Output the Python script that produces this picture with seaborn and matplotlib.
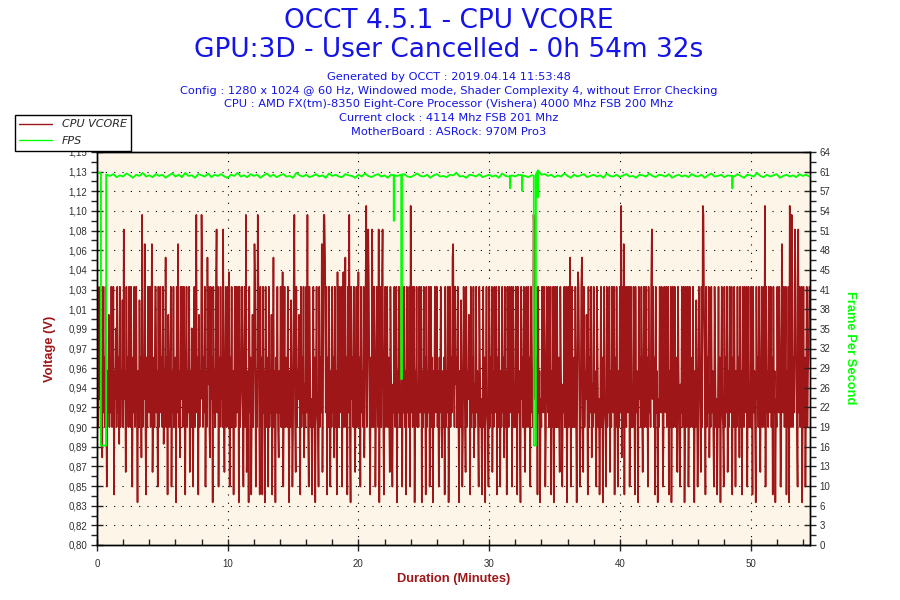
import numpy as np
import pandas as pd
import matplotlib
matplotlib.use("Agg")
import matplotlib.pyplot as plt
import seaborn as sns
from matplotlib.ticker import FixedLocator, MultipleLocator

# ---------------- data ----------------
title_lines = ["OCCT 4.5.1 - CPU VCORE", "GPU:3D - User Cancelled - 0h 54m 32s"]
info_lines = [
    "Generated by OCCT : 2019.04.14 11:53:48",
    "Config : 1280 x 1024 @ 60 Hz, Windowed mode, Shader Complexity 4, without Error Checking",
    "CPU : AMD FX(tm)-8350 Eight-Core Processor (Vishera) 4000 Mhz FSB 200 Mhz",
    "Current clock : 4114 Mhz FSB 201 Mhz",
    "MotherBoard : ASRock: 970M Pro3",
]
series_names = ["CPU VCORE", "FPS"]

duration_min = 54.55          # 0h 54m 32s
vcore_step_min = 0.05         # sampling interval of the vcore list (3 s)
fps_step_min = 0.25           # sampling interval of the fps baseline list

# CPU VCORE in millivolts, one row = one minute
vcore_mv = [
    838, 1030, 905, 967, 930, 1030, 905, 955, 878, 1030, 918, 967, 905, 1030, 943, 852, 955, 918, 1005, 905,
    967, 918, 1030, 905, 943, 1030, 845, 955, 930, 993, 905, 1030, 918, 967, 890, 1030, 905, 955, 930, 1018,
    905, 1081, 930, 955, 865, 1030, 918, 967, 905, 1030, 943, 905, 1030, 955, 852, 967, 918, 1030, 905, 943,
    1030, 918, 838, 955, 905, 1018, 930, 967, 878, 1094, 905, 955, 930, 1068, 918, 845, 967, 905, 1030, 943,
    918, 1030, 905, 955, 1068, 865, 930, 967, 905, 1030, 1030, 918, 955, 852, 1030, 905, 943, 1030, 918, 967,
    905, 1030, 890, 955, 930, 1056, 905, 967, 845, 1005, 930, 905, 967, 1030, 852, 955, 918, 1030, 905, 943,
    967, 838, 1030, 918, 1068, 905, 955, 878, 1030, 930, 1030, 905, 943, 1030, 918, 845, 967, 1030, 905, 955,
    918, 1030, 865, 955, 905, 993, 930, 852, 967, 1030, 905, 943, 1094, 918, 967, 845, 1005, 905, 955, 930,
    1094, 1030, 905, 967, 918, 1030, 852, 955, 905, 1056, 943, 1030, 905, 878, 1030, 930, 967, 838, 1030, 918,
    955, 905, 1030, 1081, 918, 1030, 852, 967, 905, 1030, 930, 967, 905, 1081, 918, 865, 955, 1030, 905, 943,
    1030, 905, 1043, 852, 967, 918, 1030, 905, 955, 845, 943, 1030, 905, 1030, 918, 967, 1030, 838, 1030, 905,
    930, 955, 1030, 918, 852, 967, 1030, 905, 1094, 865, 905, 955, 838, 1030, 918, 967, 845, 930, 1005, 905,
    967, 1068, 1030, 852, 955, 905, 1094, 1030, 930, 845, 1030, 905, 967, 845, 1030, 918, 955, 838, 1030, 905,
    930, 967, 852, 1030, 905, 955, 918, 1005, 845, 943, 1056, 905, 955, 838, 967, 918, 1030, 905, 878, 955,
    918, 1030, 905, 967, 1043, 852, 930, 1030, 905, 955, 967, 905, 1030, 918, 838, 955, 905, 1018, 943, 852,
    905, 1030, 1094, 918, 865, 1030, 905, 955, 930, 1005, 955, 845, 1030, 905, 967, 918, 1030, 878, 943, 905,
    1030, 918, 1094, 905, 852, 1030, 967, 905, 930, 845, 918, 1030, 905, 967, 838, 955, 1030, 918, 905, 852,
    1030, 905, 967, 918, 1068, 865, 955, 1094, 1094, 1056, 918, 1030, 845, 967, 905, 1030, 943, 852, 955, 905,
    1030, 918, 967, 878, 1030, 905, 955, 845, 1043, 930, 905, 1030, 918, 967, 1030, 852, 955, 1043, 905, 930,
    1056, 905, 967, 845, 1030, 918, 1094, 905, 838, 1030, 930, 967, 905, 1030, 918, 865, 955, 1030, 905, 943,
    1043, 905, 967, 852, 1030, 918, 955, 905, 1030, 878, 930, 1030, 1102, 905, 967, 1081, 1030, 918, 845, 967,
    905, 1081, 930, 905, 1030, 967, 852, 918, 1030, 955, 905, 1081, 838, 967, 1030, 905, 1030, 1081, 918, 845,
    955, 1030, 905, 943, 1030, 905, 967, 918, 865, 1030, 955, 905, 852, 943, 918, 1030, 905, 967, 1030, 838,
    955, 918, 1030, 905, 930, 905, 1030, 852, 967, 918, 1030, 905, 955, 845, 1030, 918, 967, 905, 1030, 852,
    1102, 918, 1030, 905, 967, 1030, 838, 955, 918, 1030, 905, 943, 905, 1030, 918, 967, 1030, 838, 955, 905,
    1030, 918, 967, 845, 1030, 905, 955, 918, 1030, 852, 930, 1030, 905, 967, 838, 955, 905, 1030, 918, 943,
    1030, 905, 955, 852, 967, 918, 1030, 905, 878, 955, 905, 967, 845, 1030, 905, 955, 918, 1030, 838, 930,
    1030, 905, 967, 918, 1056, 1068, 955, 905, 1030, 943, 967, 905, 1030, 918, 838, 955, 905, 1018, 943, 852,
    905, 1030, 967, 918, 865, 1030, 905, 955, 930, 1005, 955, 845, 1030, 905, 967, 918, 1030, 878, 943, 905,
    1030, 918, 955, 905, 852, 1030, 967, 905, 930, 845, 918, 1030, 905, 967, 838, 955, 1030, 918, 905, 852,
    1030, 905, 967, 918, 1030, 865, 955, 905, 1030, 930, 918, 1030, 845, 967, 905, 1030, 943, 852, 955, 905,
    1030, 918, 967, 878, 1030, 905, 955, 845, 1030, 930, 905, 1030, 918, 967, 1030, 852, 955, 1030, 905, 930,
    905, 1030, 967, 845, 1030, 918, 955, 905, 838, 1030, 930, 967, 905, 1030, 918, 865, 955, 1030, 905, 943,
    1030, 905, 967, 852, 1030, 918, 955, 905, 1094, 1081, 930, 1030, 905, 967, 845, 1030, 918, 955, 838, 930,
    905, 1030, 943, 918, 1030, 967, 852, 905, 1030, 955, 918, 1030, 905, 967, 1030, 845, 955, 905, 1030, 838,
    955, 1030, 905, 943, 1030, 905, 967, 918, 865, 1030, 955, 905, 852, 943, 918, 1030, 905, 967, 1030, 838,
    918, 1030, 905, 967, 1056, 852, 930, 1030, 905, 955, 967, 905, 1030, 918, 838, 955, 1043, 1030, 943, 852,
    905, 1030, 1056, 918, 865, 1030, 905, 955, 930, 1005, 955, 845, 1030, 905, 967, 918, 1030, 878, 943, 905,
    1030, 918, 955, 905, 852, 1030, 967, 905, 930, 845, 918, 1030, 905, 967, 838, 955, 1030, 918, 905, 852,
    1030, 905, 967, 918, 1030, 865, 955, 905, 1030, 930, 918, 1030, 845, 967, 905, 1030, 943, 852, 955, 905,
    1030, 918, 1102, 878, 1030, 905, 1068, 845, 1030, 930, 905, 1030, 918, 967, 1030, 852, 955, 1030, 905, 930,
    905, 1030, 967, 845, 1030, 918, 955, 905, 838, 1030, 930, 967, 905, 1030, 918, 865, 955, 1030, 905, 943,
    1030, 905, 967, 852, 1030, 918, 955, 905, 1030, 1081, 930, 1030, 905, 967, 845, 1030, 918, 955, 838, 930,
    905, 1030, 943, 918, 1030, 967, 852, 905, 1030, 955, 918, 1030, 905, 967, 1030, 845, 955, 905, 1030, 838,
    955, 1030, 905, 943, 1030, 905, 967, 918, 865, 1030, 955, 905, 852, 943, 918, 1030, 905, 967, 1030, 838,
    918, 1030, 905, 967, 1030, 852, 930, 1030, 905, 955, 967, 905, 1030, 918, 838, 955, 905, 1018, 943, 852,
    905, 1030, 967, 918, 865, 1030, 905, 1102, 1094, 1005, 955, 845, 1030, 905, 967, 918, 1030, 878, 943, 905,
    1030, 918, 955, 905, 852, 1030, 967, 905, 930, 845, 918, 1030, 905, 967, 838, 955, 1030, 918, 905, 852,
    1030, 905, 967, 918, 1030, 865, 955, 905, 1030, 930, 918, 1030, 845, 967, 905, 1030, 943, 852, 955, 905,
    1030, 918, 967, 878, 1030, 905, 955, 845, 1030, 930, 905, 1030, 918, 967, 1030, 852, 955, 1030, 905, 930,
    905, 1030, 967, 845, 1030, 918, 955, 905, 838, 1030, 930, 967, 905, 1030, 918, 865, 955, 1030, 905, 943,
    1030, 905, 1102, 852, 1030, 918, 955, 905, 1030, 918, 930, 1030, 905, 967, 845, 1030, 918, 955, 838, 930,
    905, 1030, 943, 918, 1030, 967, 852, 905, 1068, 955, 918, 1030, 905, 967, 1030, 845, 955, 905, 1030, 838,
    1102, 1030, 905, 1094, 1030, 905, 967, 918, 1081, 1030, 955, 905, 852, 1081, 918, 1030, 905, 967, 1030, 838,
    918, 1030, 905, 967, 852, 930, 1030, 905, 955, 967, 1030,
]

# FPS baseline (every 15 s) around 60 fps
fps_values = [
    60.6, 60.6, 60.4, 60.3, 60.1, 60.4, 59.9, 60.2,
    60.0, 60.5, 60.2, 59.8, 60.3, 60.1, 60.6, 60.0,
    60.2, 59.9, 60.4, 60.1, 60.3, 59.8, 60.2, 60.5,
    60.0, 60.3, 59.9, 60.6, 60.1, 60.2, 59.8, 60.4,
    60.2, 60.0, 60.5, 59.9, 60.3, 60.1, 60.4, 60.0,
    59.8, 60.3, 60.1, 60.6, 60.0, 60.2, 59.9, 60.4,
    60.1, 60.3, 59.8, 60.2, 60.5, 60.0, 60.3, 59.9,
    60.2, 60.4, 60.0, 60.1, 59.8, 60.6, 60.2, 60.0,
    60.3, 59.9, 60.1, 60.4, 60.0, 60.2, 59.8, 60.5,
    60.1, 60.3, 60.0, 59.9, 60.4, 60.2, 60.1, 59.8,
    60.3, 60.0, 60.5, 60.1, 59.9, 60.2, 60.4, 60.0,
    60.2, 59.8, 60.3, 60.2, 60.1, 60.3, 60.4, 60.0,
    59.9, 60.2, 60.5, 60.1, 60.0, 60.3, 59.8, 60.2,
    60.4, 60.0, 60.1, 59.9, 60.3, 60.2, 60.6, 60.0,
    60.1, 59.8, 60.3, 60.2, 60.0, 60.4, 59.9, 60.1,
    60.3, 60.0, 60.2, 59.8, 60.5, 60.1, 60.0, 60.2,
    60.0, 60.3, 60.2, 60.1, 59.9, 60.2, 60.1, 61.0,
    60.3, 60.4, 60.1, 60.3, 59.9, 60.2, 60.0, 60.5,
    60.1, 59.8, 60.3, 60.0, 60.2, 60.4, 59.9, 60.1,
    60.3, 60.0, 60.2, 59.8, 60.5, 60.1, 60.0, 60.3,
    59.9, 60.2, 60.4, 60.0, 60.1, 59.8, 60.3, 60.2,
    60.0, 60.5, 60.1, 59.9, 60.3, 60.2, 60.0, 60.4,
    59.8, 60.1, 60.3, 60.0, 60.2, 59.9, 60.4, 60.1,
    60.0, 60.3, 59.8, 60.2, 60.5, 60.0, 60.1, 60.3,
    59.9, 60.2, 60.1, 60.0, 60.4, 60.1, 59.8, 60.3,
    60.2, 60.0, 60.6, 60.1, 59.9, 60.3, 60.0, 60.2,
    60.4, 59.8, 60.1, 60.3, 60.0, 60.2, 59.9, 60.4,
    60.1, 60.3, 60.0,
]
# FPS drops: start minute, end minute, fps during the drop
fps_dip_start = [0.30, 22.70, 23.28, 31.60, 32.52, 33.42, 33.70, 48.60]
fps_dip_end = [0.70, 22.74, 23.32, 31.63, 32.55, 33.58, 33.73, 48.63]
fps_dip_value = [16.2, 52.8, 27.0, 58.1, 57.7, 16.2, 56.6, 58.1]

volt_tick_values = [0.80, 0.8175, 0.835, 0.8525, 0.87, 0.8875, 0.905, 0.9225,
                    0.94, 0.9575, 0.975, 0.9925, 1.01, 1.0275, 1.045, 1.0625,
                    1.08, 1.0975, 1.115, 1.1325, 1.15]
volt_tick_labels = ["0,80", "0,82", "0,83", "0,85", "0,87", "0,89", "0,90", "0,92",
                    "0,94", "0,96", "0,97", "0,99", "1,01", "1,03", "1,04", "1,06",
                    "1,08", "1,10", "1,12", "1,13", "1,15"]
fps_tick_values = [0, 3.2, 6.4, 9.6, 12.8, 16, 19.2, 22.4, 25.6, 28.8, 32,
                   35.2, 38.4, 41.6, 44.8, 48, 51.2, 54.4, 57.6, 60.8, 64]
fps_tick_labels = ["0", "3", "6", "10", "13", "16", "19", "22", "26", "29", "32",
                   "35", "38", "41", "45", "48", "51", "54", "57", "61", "64"]
minute_ticks = [0, 10, 20, 30, 40, 50]

# ---------------- styling ----------------
RED = "#9E1618"
GREEN = "#00FF00"
BLUE = "#1414E6"
CREAM = "#FDF6E8"

sns.set_style("ticks")
plt.rcParams["font.family"] = ["DejaVu Sans"]
plt.rcParams["path.simplify"] = False

df_v = pd.DataFrame({"minutes": np.arange(len(vcore_mv)) * vcore_step_min,
                     "vcore": np.array(vcore_mv) / 1000.0})

# FPS: baseline samples plus the drop events, merged in time order
base_t = np.arange(len(fps_values)) * fps_step_min
base_v = np.array(fps_values)
rows = [pd.DataFrame({"minutes": base_t, "fps": base_v, "sub": 0})]
keep = np.ones(len(base_t), dtype=bool)
for s, e, v in zip(fps_dip_start, fps_dip_end, fps_dip_value):
    keep &= ~((base_t > s) & (base_t < e))
    rows.append(pd.DataFrame({
        "minutes": [s, s, e, e],
        "fps": [np.interp(s, base_t, base_v), v, v, np.interp(e, base_t, base_v)],
        "sub": [1, 2, 3, 4]}))
rows[0] = rows[0][keep]
df_f = pd.concat(rows).sort_values(["minutes", "sub"], kind="stable")

fig = plt.figure(figsize=(9, 6), dpi=100)
fig.patch.set_facecolor("white")
ax = fig.add_axes([97 / 900, 55 / 600, 713 / 900, 393 / 600])
ax.set_facecolor(CREAM)

sns.lineplot(data=df_v, x="minutes", y="vcore", ax=ax, color=RED, linewidth=1.2,
             estimator=None, sort=False, legend=False, label=series_names[0])
ax.set_xlim(0, duration_min)
ax.set_ylim(volt_tick_values[0], volt_tick_values[-1])

ax2 = ax.twinx()
sns.lineplot(data=df_f, x="minutes", y="fps", ax=ax2, color=GREEN, linewidth=1.3,
             estimator=None, sort=False, legend=False, label=series_names[1])
ax2.set_ylim(fps_tick_values[0], fps_tick_values[-1])
ax2.set_xlim(0, duration_min)

for a in (ax, ax2):
    a.set_xlabel("")
    a.set_ylabel("")
    for s in a.spines.values():
        s.set_visible(True)
        s.set_color("black")
        s.set_linewidth(1.0)

tick_font = {"family": "Liberation Sans", "size": 7}

ax.set_yticks(volt_tick_values)
ax.set_yticklabels(volt_tick_labels, fontdict=tick_font, color="#303030")
mids_v = [(a + b) / 2 for a, b in zip(volt_tick_values[:-1], volt_tick_values[1:])]
ax.yaxis.set_minor_locator(FixedLocator(mids_v))
ax.set_xticks(minute_ticks)
ax.set_xticklabels([str(m) for m in minute_ticks], fontdict=tick_font, color="#303030")
ax.xaxis.set_minor_locator(MultipleLocator(2))

ax.tick_params(axis="y", which="major", direction="inout", length=8, width=1, pad=3)
ax.tick_params(axis="y", which="minor", direction="out", length=4, width=1)
ax.tick_params(axis="x", which="major", direction="inout", length=8, width=1, pad=6)
ax.tick_params(axis="x", which="minor", direction="in", length=4, width=1)

ax2.set_yticks(fps_tick_values)
ax2.set_yticklabels(fps_tick_labels, fontdict=tick_font, color="#303030")
mids_f = [(a + b) / 2 for a, b in zip(fps_tick_values[:-1], fps_tick_values[1:])]
ax2.yaxis.set_minor_locator(FixedLocator(mids_f))
ax2.tick_params(axis="y", which="major", direction="inout", length=8, width=1, pad=3)
ax2.tick_params(axis="y", which="minor", direction="out", length=4, width=1)

ax.set_axisbelow(True)
ax.grid(True, which="major", axis="both", color="black",
        linestyle=(0, (1, 6.5)), linewidth=0.8)

# axis titles
lab = dict(fontweight="bold", family="Liberation Sans", fontsize=9.3,
           ha="center", va="center")
fig.text(50 / 900, 1 - 349 / 600, "Voltage (V)", rotation=90, color=RED,
         rotation_mode="anchor", **lab)
fig.text(850 / 900, 1 - 348 / 600, "Frame Per Second", rotation=-90, color=GREEN,
         rotation_mode="anchor", **lab)
fig.text(454 / 900, 1 - 579 / 600, "Duration (Minutes)", color=RED, **lab)

# header
fig.text(449 / 900, 1 - 21 / 600, title_lines[0], color=BLUE, fontsize=19,
         ha="center", va="center")
fig.text(449 / 900, 1 - 50 / 600, title_lines[1], color=BLUE, fontsize=19,
         ha="center", va="center")
for i, line in enumerate(info_lines):
    fig.text(449 / 900, 1 - (77 + 13.7 * i) / 600, line, color=BLUE, fontsize=8.2,
             ha="center", va="center")

# legend
handles = [ax.lines[0], ax2.lines[0]]
leg = fig.legend(handles, series_names, loc="upper left",
                 bbox_to_anchor=(15 / 900, 1 - 115 / 600), borderaxespad=0,
                 frameon=True, fancybox=False, edgecolor="black", framealpha=1,
                 facecolor="white", handlelength=2.9, handletextpad=0.9,
                 labelspacing=0.6, borderpad=0.4,
                 prop={"family": "DejaVu Sans", "style": "italic", "size": 8})
leg.get_frame().set_linewidth(1.0)
for h in leg.legend_handles:
    h.set_linewidth(1.0)

fig.savefig("out.png", dpi=100)
